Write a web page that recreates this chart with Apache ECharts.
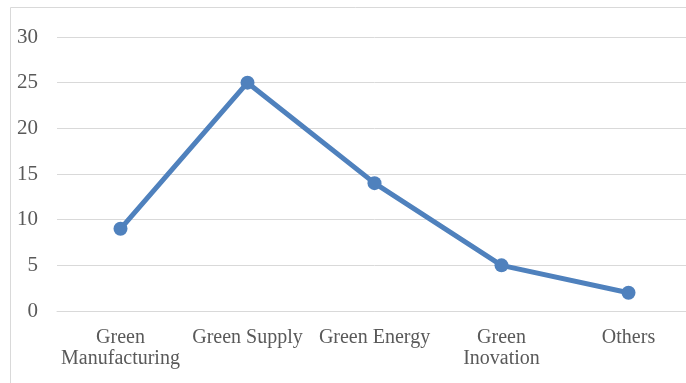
<!DOCTYPE html>
<html>
<head>
<meta charset="utf-8">
<script src="https://cdn.jsdelivr.net/npm/echarts@6/dist/echarts.min.js"></script>
<style>
    html, body { margin: 0; padding: 0; background: #fff; overflow: hidden; }
    #wrap { width: 686px; height: 383px; overflow: hidden; position: relative; }
    #chart { width: 700px; height: 383px; position: absolute; left: 0; top: 0; }
</style>
</head>
<body>
<div id="wrap"><div id="chart"></div></div>
<script>
// categories and values
var categories = ['Green\nManufacturing', 'Green Supply', 'Green Energy', 'Green\nInovation', 'Others'];
var counts = [9, 25, 14, 5, 2];
var yTicks = [0, 5, 10, 15, 20, 25, 30];

var myChart = echarts.init(document.getElementById('chart'));
myChart.setOption({
    animation: false,
    textStyle: { fontFamily: 'Liberation Serif' },
    graphic: [{
        // frame of the embedded chart
        type: 'rect',
        shape: { x: 10.5, y: 7.5, width: 720, height: 400 },
        style: { fill: 'none', stroke: '#d9d9d9', lineWidth: 1 },
        silent: true
    }],
    grid: {
        left: 57,
        top: 37,
        width: 635,
        height: 274
    },
    xAxis: {
        type: 'category',
        data: categories,
        boundaryGap: true,
        axisLine: { lineStyle: { color: '#d9d9d9', width: 1 } },
        axisTick: { show: false },
        axisLabel: {
            interval: 0,
            margin: 16,
            color: '#595959',
            fontSize: 20,
            lineHeight: 21,
            fontFamily: 'Liberation Serif'
        }
    },
    yAxis: {
        type: 'value',
        min: yTicks[0],
        max: yTicks[yTicks.length - 1],
        interval: 5,
        axisLine: { show: false },
        axisTick: { show: false },
        splitLine: { lineStyle: { color: '#d9d9d9', width: 1 } },
        axisLabel: {
            margin: 19,
            color: '#595959',
            fontSize: 21,
            fontFamily: 'Liberation Serif'
        }
    },
    series: [{
        type: 'line',
        data: counts,
        symbol: 'circle',
        symbolSize: 14,
        lineStyle: { color: '#4f81bd', width: 5 },
        itemStyle: { color: '#4f81bd' }
    }]
});
</script>
</body>
</html>
